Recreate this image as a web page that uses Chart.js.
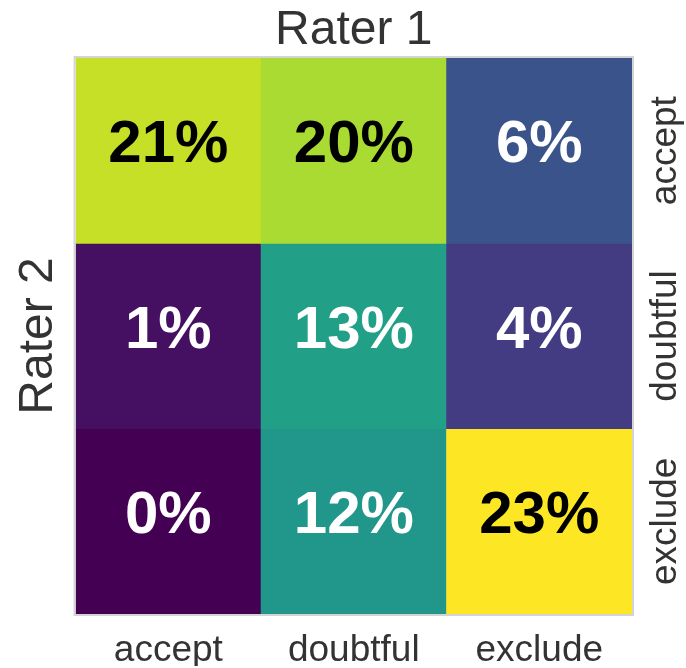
<!DOCTYPE html>
<html>
<head>
<meta charset="utf-8">
<script src="https://cdn.jsdelivr.net/npm/chart.js@4.4.1/dist/chart.umd.min.js"></script>
<style>
  html, body { margin: 0; padding: 0; background: #fff; }
  #wrap { width: 686px; height: 668px; }
</style>
</head>
<body>
<div id="wrap"><canvas id="myChart"></canvas></div>
<script>
const rater1Labels = ['accept', 'doubtful', 'exclude']
const rater2Labels = ['accept', 'doubtful', 'exclude']
// share of items (%), one row per Rater 2 category, columns follow Rater 1
const acceptRow = [21, 20, 6]
const doubtfulRow = [1, 13, 4]
const excludeRow = [0, 12, 23]
const rows = [acceptRow, doubtfulRow, excludeRow]

const FONT = '"Liberation Sans", Arial, Helvetica, sans-serif'
const TEXT = '#333333'

// viridis colormap, sampled every 0.1
const viridisStops = ['#440154', '#482475', '#414487', '#355f8d', '#2a788e', '#21918c',
    '#22a884', '#44bf70', '#7ad151', '#bddf26', '#fde725']

function viridis(t){
    t = Math.min(1, Math.max(0, t)) * (viridisStops.length - 1)
    const i = Math.min(Math.floor(t), viridisStops.length - 2)
    const f = t - i
    const a = viridisStops[i], b = viridisStops[i + 1]
    const ch = (s, k) => parseInt(s.substr(1 + k * 2, 2), 16)
    const mix = k => Math.round(ch(a, k) + (ch(b, k) - ch(a, k)) * f)
    return `rgb(${mix(0)}, ${mix(1)}, ${mix(2)})`
}

const allValues = rows.flat()
const vmin = Math.min(...allValues)
const vmax = Math.max(...allValues)

//Writes the percentages in the cells, the frame and the right-hand row labels.
const cellText = {
    id: 'cellText',
    afterDatasetsDraw(chart){
        const {ctx, chartArea, scales: {x, y}} = chart
        ctx.save()
        ctx.strokeStyle = '#d4d4d4'
        ctx.lineWidth = 2
        ctx.strokeRect(chartArea.left - 1, chartArea.top - 1, chartArea.width + 2, chartArea.height + 2)

        ctx.font = 'bold 60px ' + FONT
        ctx.textAlign = 'center'
        ctx.textBaseline = 'middle'
        rows.forEach((row, r) => {
            row.forEach((v, c) => {
                ctx.fillStyle = (v - vmin) / (vmax - vmin) > 0.7 ? '#000000' : '#ffffff'
                ctx.fillText(v + '%', x.getPixelForValue(c), y.getPixelForValue(r + 0.5) - 5)
            })
        })

        ctx.font = '37px ' + FONT
        ctx.fillStyle = TEXT
        rater2Labels.forEach((label, r) => {
            ctx.save()
            ctx.translate(chartArea.right + 34, y.getPixelForValue(r + 0.5))
            ctx.rotate(-Math.PI / 2)
            ctx.fillText(label, 0, 0)
            ctx.restore()
        })
        ctx.restore()
    }
}

const canvas = document.getElementById('myChart')

const config = {
    type: 'bar',
    data: {
        labels: rater1Labels,
        datasets: rows.map((row, r) => ({
            label: rater2Labels[r],
            data: row.map(() => 1),
            backgroundColor: row.map(v => viridis((v - vmin) / (vmax - vmin))),
            borderWidth: 0,
            barPercentage: 1,
            categoryPercentage: 1
        }))
    },
    options: {
        responsive: true,
        maintainAspectRatio: false,
        animation: false,
        layout: {
            padding: {top: 0, left: 6, right: 54, bottom: 2}
        },
        scales: {
            x: {
                stacked: true,
                position: 'bottom',
                grid: {display: false, drawTicks: false},
                border: {display: false},
                ticks: {
                    color: TEXT,
                    padding: 18,
                    font: {family: FONT, size: 37, lineHeight: 1}
                },
                afterFit(scale){ scale.height = 52 }
            },
            // top axis only carries the "Rater 1" title, centred over the cells
            xTop: {
                type: 'category',
                labels: rater1Labels,
                position: 'top',
                grid: {display: false, drawTicks: false},
                border: {display: false},
                ticks: {display: false},
                title: {
                    display: true,
                    text: 'Rater 1',
                    color: TEXT,
                    padding: {top: 2, bottom: 0},
                    font: {family: FONT, size: 48}
                },
                afterFit(scale){ scale.height = 58 }
            },
            y: {
                stacked: true,
                reverse: true,
                min: 0,
                max: 3,
                position: 'left',
                grid: {display: false, drawTicks: false},
                border: {display: false},
                ticks: {display: false},
                title: {
                    display: true,
                    text: 'Rater 2',
                    color: TEXT,
                    padding: {top: 4, bottom: 8},
                    font: {family: FONT, size: 48}
                }
            }
        },
        plugins: {
            legend: {display: false},
            tooltip: {enabled: false}
        }
    },
    plugins: [cellText]
}

const myChart = new Chart(canvas, config)
</script>
</body>
</html>
